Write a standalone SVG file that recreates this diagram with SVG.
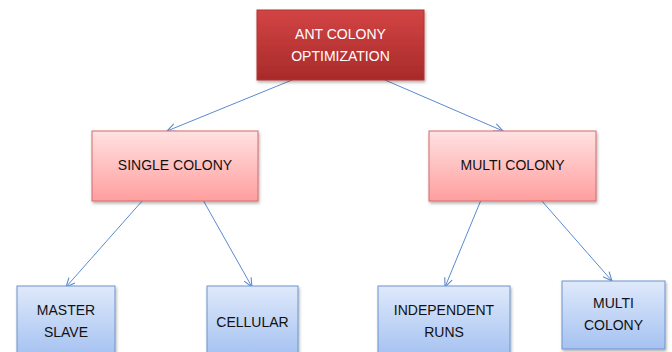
<svg xmlns="http://www.w3.org/2000/svg" width="672" height="352" viewBox="0 0 672 352">
<defs>
<linearGradient id="gRed" x1="0" y1="0" x2="0" y2="1"><stop offset="0" stop-color="#d24444"/><stop offset="1" stop-color="#a82a2a"/></linearGradient>
<linearGradient id="gPink" x1="0" y1="0" x2="0" y2="1"><stop offset="0" stop-color="#ffe2e2"/><stop offset="1" stop-color="#ff9e9e"/></linearGradient>
<linearGradient id="gBlue" x1="0" y1="0" x2="0" y2="1"><stop offset="0" stop-color="#dfe9fb"/><stop offset="1" stop-color="#a5c2f1"/></linearGradient>
<filter id="sh" x="-10%" y="-10%" width="130%" height="140%"><feDropShadow dx="1" dy="2" stdDeviation="1.5" flood-color="#000" flood-opacity="0.3"/></filter>
<marker id="arr" markerWidth="12" markerHeight="10" refX="10" refY="5" orient="auto" markerUnits="userSpaceOnUse"><path d="M1,1 L10,5 L1,9" fill="none" stroke="#5a8ad0" stroke-width="1.1"/></marker>
</defs>
<style>
.red{fill:url(#gRed);stroke:#b03434;stroke-width:1;filter:url(#sh)}
.pink{fill:url(#gPink);stroke:#d56a6a;stroke-width:1;filter:url(#sh)}
.blue{fill:url(#gBlue);stroke:#6e93cc;stroke-width:1;filter:url(#sh)}
text{font-family:"Liberation Sans",Arial,sans-serif;font-size:14px;text-anchor:middle}
.w{fill:#ffffff}
.d{fill:#111111}
.conn line{stroke:#5a8ad0;stroke-width:1;marker-end:url(#arr)}
</style>
<g id="connectors" class="conn">
<line x1="292" y1="80" x2="167" y2="131"/>
<line x1="385" y1="80" x2="503" y2="131"/>
<line x1="143" y1="200" x2="66" y2="287"/>
<line x1="203" y1="200" x2="252" y2="287"/>
<line x1="481" y1="200" x2="445" y2="287"/>
<line x1="541" y1="200" x2="612" y2="281"/>
</g>
<g id="aco"><rect class="red" x="257" y="10" width="167" height="70"/><text class="w" x="340.5" y="39">ANT COLONY</text><text class="w" x="340.5" y="61">OPTIMIZATION</text></g>
<g id="single"><rect class="pink" x="92" y="131" width="166" height="70"/><text class="d" x="175" y="170">SINGLE COLONY</text></g>
<g id="multi"><rect class="pink" x="429" y="131" width="167" height="70"/><text class="d" x="512.5" y="170">MULTI COLONY</text></g>
<g id="master"><rect class="blue" x="17" y="286" width="98" height="70"/><text class="d" x="66" y="315">MASTER</text><text class="d" x="66" y="337">SLAVE</text></g>
<g id="cellular"><rect class="blue" x="207" y="286" width="91" height="70"/><text class="d" x="252.5" y="327">CELLULAR</text></g>
<g id="independent"><rect class="blue" x="378" y="286" width="132" height="70"/><text class="d" x="444" y="315">INDEPENDENT</text><text class="d" x="444" y="337">RUNS</text></g>
<g id="multicolony"><rect class="blue" x="562" y="281" width="103" height="68"/><text class="d" x="613.5" y="308">MULTI</text><text class="d" x="613.5" y="330">COLONY</text></g>
</svg>
